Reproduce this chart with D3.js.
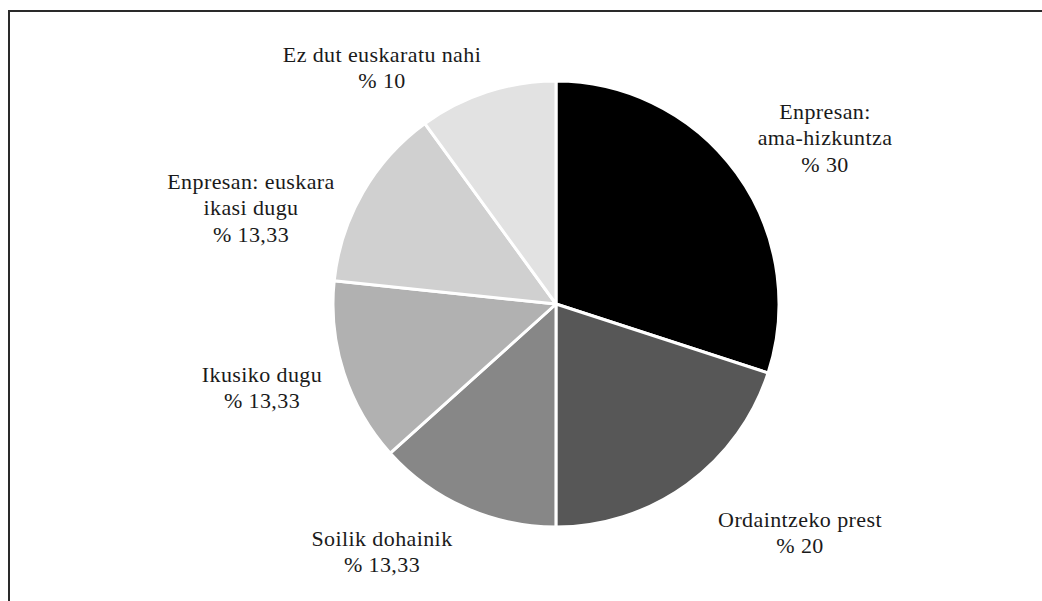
<!DOCTYPE html>
<html>
<head>
<meta charset="utf-8">
<script src="https://cdn.jsdelivr.net/npm/d3@7"></script>
<style>
  html, body { margin: 0; padding: 0; background: #fff; }
  svg { display: block; }
</style>
</head>
<body>
<svg id="chart" width="1042" height="601"></svg>
<script>
// Categories and shares (percent), clockwise from 12 o'clock
const categories = [
  ["Enpresan:", "ama-hizkuntza"],
  ["Ordaintzeko prest"],
  ["Soilik dohainik"],
  ["Ikusiko dugu"],
  ["Enpresan: euskara", "ikasi dugu"],
  ["Ez dut euskaratu nahi"]
];
const values = [30, 20, 13.33, 13.33, 13.33, 10];
const valueLabels = ["% 30", "% 20", "% 13,33", "% 13,33", "% 13,33", "% 10"];

// Slice fills, dark to light
const fills = ["#000000", "#575757", "#878787", "#b1b1b1", "#d0d0d0", "#e2e2e2"];

// Label block centres, relative to the pie centre
const labelOffsets = [
  [269, -166], [244, 229], [-174, 248], [-294, 84], [-305, -96], [-174, -236]
];

const W = 1042, H = 601;
const cx = 556, cy = 304, R = 223;
const lineH = 26.5;
const FONT = "Liberation Serif";

const svg = d3.select("#chart");

// Frame: top and left edges
svg.append("path")
  .attr("d", `M9,${H} V11 H${W}`)
  .attr("fill", "none")
  .attr("stroke", "#2a2a2a")
  .attr("stroke-width", 2);

const pie = d3.pie().sort(null).value(d => d);
const arc = d3.arc().innerRadius(0).outerRadius(R);
const color = d3.scaleOrdinal().domain(d3.range(values.length)).range(fills);

const g = svg.append("g").attr("transform", `translate(${cx},${cy})`);

g.selectAll("path.slice")
  .data(pie(values))
  .join("path")
  .attr("class", "slice")
  .attr("d", arc)
  .attr("fill", (d, i) => color(i))
  .attr("stroke", "#fff")
  .attr("stroke-width", 3)
  .attr("stroke-linejoin", "round");

// Labels: one text element per line, category lines then the value
const labelLines = [];
categories.forEach((c, i) => {
  const lines = c.concat([valueLabels[i]]);
  const off = labelOffsets[i];
  const top = off[1] - (lines.length - 1) * lineH / 2 + 7;
  lines.forEach((t, j) => labelLines.push({ text: t, x: off[0], y: top + j * lineH }));
});

g.selectAll("text.label")
  .data(labelLines)
  .join("text")
  .attr("class", "label")
  .attr("x", d => d.x)
  .attr("y", d => d.y)
  .attr("font-family", FONT)
  .attr("font-size", 22)
  .attr("letter-spacing", 0.4)
  .attr("fill", "#1a1a1a")
  .attr("text-anchor", "middle")
  .text(d => d.text);
</script>
</body>
</html>
